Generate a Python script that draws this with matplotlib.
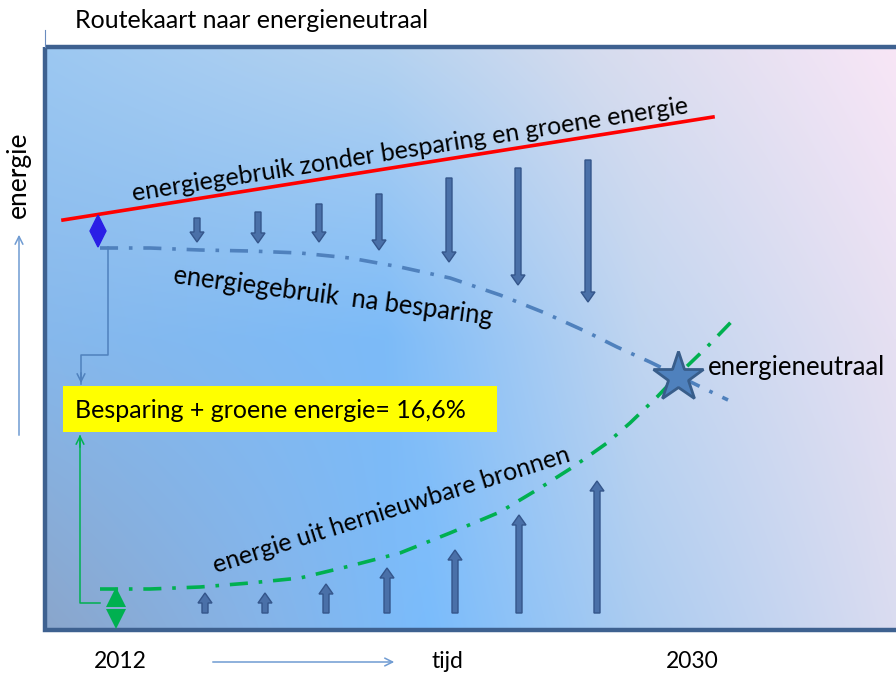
import numpy as np
import matplotlib
matplotlib.use("Agg")
import matplotlib.pyplot as plt
from matplotlib.patches import FancyArrow, Rectangle, Polygon
from matplotlib.colors import to_rgb

plt.rcParams['font.family'] = ['Lato', 'DejaVu Sans']

# reeksen (pixelcoordinaten van het schema)
blauw_x = [100, 150, 200, 250, 300, 350, 400, 450, 500, 545, 587, 617, 650, 703, 728]
blauw_y = [248, 248, 250, 251, 253, 258, 267, 278, 295, 313, 332, 347, 362, 388, 400]
groen_x = [100, 150, 200, 250, 300, 350, 400, 450, 500, 540, 573, 607, 630, 657, 680, 707, 735]
groen_y = [589, 589, 587, 583, 578, 566, 553, 533, 512, 488, 467, 443, 423, 397, 373, 347, 318]
rood_x = [63, 713]
rood_y = [220, 117]

# besparingspijlen (omlaag) en groene pijlen (omhoog)
pijl_neer_x = [197, 258, 319, 379, 449, 518, 588]
pijl_neer_top = [218, 212, 204, 194, 178, 168, 160]
pijl_neer_eind = [242, 243, 242, 250, 262, 285, 302]
pijl_op_x = [205, 265, 326, 387, 455, 519, 597]
pijl_op_top = [593, 593, 584, 568, 550, 515, 481]
pijl_op_basis = 613

jaren = ['2012', '2030']
ster = (678, 377)

fig = plt.figure(figsize=(8.96, 6.77), dpi=100)
ax = fig.add_axes([0, 0, 1, 1])
ax.set_xlim(0, 896)
ax.set_ylim(677, 0)
ax.axis('off')

# achtergrondverloop
x0, x1, y0, y1 = 45, 896, 47, 630
boven = [(0.0, '#9cc8f2'), (0.4, '#b4d2f0'), (0.65, '#d6dcee'), (1.0, '#f8e6f6')]
onder = [(0.0, '#8aa6cc'), (0.25, '#86b4e8'), (0.45, '#7abcfc'), (0.7, '#acccf0'), (1.0, '#dadcf0')]
midden = [(0.0, '#86b8ec'), (0.4, '#7cbbf8'), (0.7, '#c0d5f0'), (1.0, '#e6e0f2')]
nx, ny = 300, 120
t = np.linspace(0, 1, nx)
def rij(stops):
    pos = [s[0] for s in stops]
    kl = np.array([to_rgb(s[1]) for s in stops])
    return np.stack([np.interp(t, pos, kl[:, i]) for i in range(3)], axis=1)
rb, rm, ro = rij(boven), rij(midden), rij(onder)
v = np.linspace(0, 1, ny)[:, None, None]
img = np.where(v < 0.5, rb + (rm - rb) * (v / 0.5), rm + (ro - rm) * ((v - 0.5) / 0.5))
ax.imshow(img, extent=(x0, x1, y1, y0), aspect='auto', interpolation='bilinear', zorder=0)
ax.add_patch(Rectangle((x0, y0), x1 - x0 + 10, y1 - y0, fill=False, ec='#3e6190', lw=3.2, zorder=1))
ax.plot([45, 45], [30, 47], color='#6a8cbf', lw=0.8)

# lijnen
ax.plot(rood_x, rood_y, color='#ff0000', lw=2.6, zorder=3)
ax.plot(blauw_x, blauw_y, color='#4f81bd', lw=2.6, linestyle=(0, (5, 3, 1, 3)), zorder=3)
ax.plot(groen_x, groen_y, color='#00b050', lw=2.6, linestyle=(0, (5, 3, 1, 3)), zorder=3)

pijl_kw = dict(width=6, head_width=14, head_length=10, length_includes_head=True,
               fc='#4a70a8', ec='#34558a', lw=1, zorder=4)
for x, a, b in zip(pijl_neer_x, pijl_neer_top, pijl_neer_eind):
    ax.add_patch(FancyArrow(x, a, 0, b - a, **pijl_kw))
for x, a in zip(pijl_op_x, pijl_op_top):
    ax.add_patch(FancyArrow(x, pijl_op_basis, 0, a - pijl_op_basis, **pijl_kw))

# dubbele pijlen
ax.add_patch(Polygon([(98, 215), (106, 231), (98, 247), (90, 231)], closed=True,
                     fc='#2a1fe6', ec='#2a1fe6', zorder=5))
ax.add_patch(Polygon([(116, 587), (126, 607), (106, 607)], closed=True, fc='#00b050', ec='none', zorder=5))
ax.add_patch(Polygon([(106, 609), (126, 609), (116, 629)], closed=True, fc='#00b050', ec='none', zorder=5))

# verbindingslijnen
ax.plot([108, 108, 81, 81], [247, 355, 355, 384], color='#4f81bd', lw=1.1, zorder=3)
ax.annotate('', xy=(81, 386), xytext=(81, 370),
            arrowprops=dict(arrowstyle='->', color='#4f81bd', lw=1.1, mutation_scale=14), zorder=3)
ax.plot([100, 80, 80], [603, 603, 436], color='#00b050', lw=1.1, zorder=3)
ax.annotate('', xy=(80, 432), xytext=(80, 450),
            arrowprops=dict(arrowstyle='->', color='#00b050', lw=1.1, mutation_scale=14), zorder=3)

# gele kader
ax.add_patch(Rectangle((63, 386), 434, 46, fc='#ffff00', ec='none', zorder=4))
ax.text(75, 410, 'Besparing + groene energie= 16,6%', fontsize=18, va='center', ha='left', zorder=5)

# ster
ax.plot(*ster, marker='*', markersize=38, color='#4f81bd', mec='#385d8a', mew=2, zorder=6)
ax.text(708, 367, 'energieneutraal', fontsize=18.5, va='center', ha='left', zorder=6)

# teksten langs lijnen
ax.text(410, 150, 'energiegebruik zonder besparing en groene energie', fontsize=18,
        rotation=9, rotation_mode='anchor', ha='center', va='center', zorder=5)
ax.text(333, 297, 'energiegebruik  na besparing', fontsize=18.4,
        rotation=-7.5, rotation_mode='anchor', ha='center', va='center', zorder=5)
ax.text(391, 510, 'energie uit hernieuwbare bronnen', fontsize=18,
        rotation=17.5, rotation_mode='anchor', ha='center', va='center', zorder=5)

# titel en assen
ax.text(75, 20, 'Routekaart naar energieneutraal', fontsize=18, va='center', ha='left')
ax.text(18, 175, 'energie', fontsize=19, rotation=90, va='center', ha='center')
ax.annotate('', xy=(19, 232), xytext=(19, 438),
            arrowprops=dict(arrowstyle='->', color='#6f9bd2', lw=1.1, mutation_scale=14))
ax.text(120, 661, jaren[0], fontsize=16.5, va='center', ha='center')
ax.text(692, 661, jaren[1], fontsize=16.5, va='center', ha='center')
ax.annotate('', xy=(397, 662), xytext=(210, 662),
            arrowprops=dict(arrowstyle='->', color='#6f9bd2', lw=1.1, mutation_scale=14))
ax.text(447, 661, 'tijd', fontsize=16.5, va='center', ha='center')

fig.savefig('out.png', dpi=100)
